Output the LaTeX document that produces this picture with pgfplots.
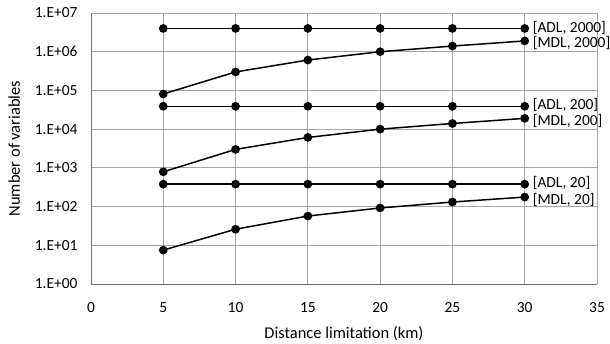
\documentclass[border=0pt]{standalone}
\usepackage{fontspec}
\setmainfont{Carlito}
\usepackage{pgfplots}
\pgfplotsset{compat=1.18}
\tikzset{ser/.style={black, line width=1.5pt, mark=*, mark size=3.6pt, mark options={solid, fill=black}}}
\tikzset{lab/.style={right, font=\fontsize{15.5}{18}\selectfont, xshift=4bp}}
\begin{document}
\begin{tikzpicture}
\useasboundingbox (-91bp,-60bp) rectangle (519bp,284bp);
\begin{axis}[
  at={(0,0)}, anchor=south west,
  scale only axis, width=506bp, height=271bp,
  ymode=log, xmin=0, xmax=35, ymin=1, ymax=1e7,
  xtick={0,5,...,35},
  ytick={1,10,100,1000,10000,100000,1000000,10000000},
  yticklabels={1.E+00,1.E+01,1.E+02,1.E+03,1.E+04,1.E+05,1.E+06,1.E+07},
  log basis y=10,
  /pgf/number format/assume math mode=true,
  axis x line=bottom, axis y line=left,
  axis line style={-, draw=black!55, line width=0.9pt},
  major tick length=0pt,
  grid=major,
  major grid style={draw=black!35, line width=0.8pt},
  tick label style={font=\fontsize{15.5}{18}\selectfont, text=black},
  xticklabel style={yshift=-15bp},
  yticklabel style={xshift=-10bp},
  xlabel={Distance limitation (km)},
  ylabel={Number of variables},
  label style={font=\fontsize{16.5}{19}\selectfont},
  xlabel style={yshift=-6.5bp},
  ylabel style={yshift=8bp},
  clip=false,
]
\addplot[ser] coordinates {(5,4.0e6) (10,4.0e6) (15,4.0e6) (20,4.0e6) (25,4.0e6) (30,4.0e6)} node[lab] {[ADL, 2000]};
\addplot[ser] coordinates {(5,8.1e4) (10,3.0e5) (15,6.1e5) (20,1.0e6) (25,1.4e6) (30,1.9e6)} node[lab, yshift=-2.5bp] {[MDL, 2000]};
\addplot[ser] coordinates {(5,3.9e4) (10,3.9e4) (15,3.9e4) (20,3.9e4) (25,3.9e4) (30,3.9e4)} node[lab, yshift=1bp] {[ADL, 200]};
\addplot[ser] coordinates {(5,7.9e2) (10,3.0e3) (15,6.1e3) (20,1.0e4) (25,1.4e4) (30,1.9e4)} node[lab, yshift=-2.5bp] {[MDL, 200]};
\addplot[ser] coordinates {(5,3.8e2) (10,3.8e2) (15,3.8e2) (20,3.8e2) (25,3.8e2) (30,3.8e2)} node[lab, yshift=1bp] {[ADL, 20]};
\addplot[ser] coordinates {(5,7.5) (10,26) (15,57) (20,92) (25,131) (30,176)} node[lab, yshift=-2.5bp] {[MDL, 20]};
\end{axis}
\end{tikzpicture}
\end{document}
